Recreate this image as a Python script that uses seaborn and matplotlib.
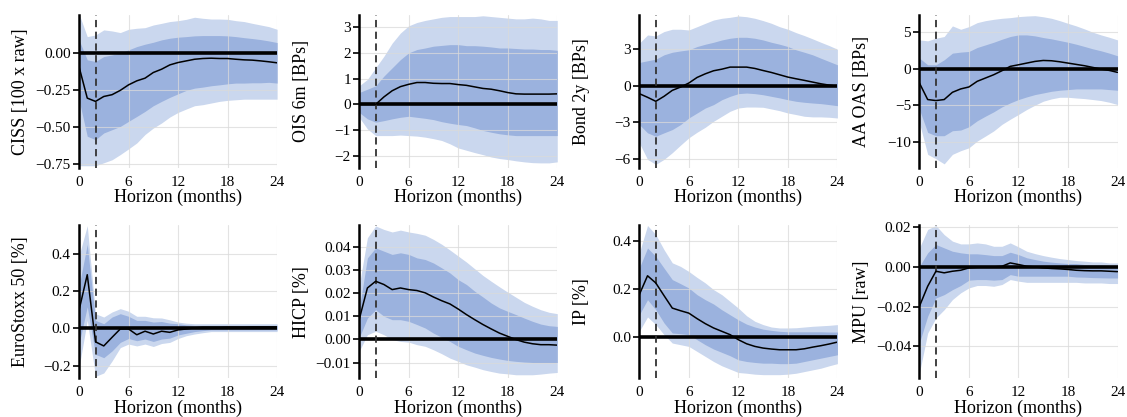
import matplotlib
matplotlib.use("Agg")
import matplotlib.pyplot as plt
from matplotlib.ticker import FuncFormatter
import seaborn as sns

horizon = list(range(25))

# CISS [100 x raw]
ciss_med = [-0.094, -0.306, -0.328, -0.295, -0.283, -0.254, -0.217, -0.19, -0.172, -0.134, -0.112, -0.083, -0.067,
            -0.056, -0.045, -0.04, -0.038, -0.04, -0.04, -0.045, -0.049, -0.051, -0.056, -0.062, -0.069]
ciss_lo68 = [-0.317, -0.562, -0.585, -0.54, -0.518, -0.496, -0.462, -0.429, -0.395, -0.357, -0.328, -0.301, -0.277,
             -0.254, -0.239, -0.232, -0.223, -0.217, -0.21, -0.205, -0.205, -0.203, -0.203, -0.2, -0.205]
ciss_hi68 = [0.085, -0.049, -0.06, -0.027, -0.016, -0.004, 0.018, 0.04, 0.056, 0.069, 0.085, 0.096, 0.103,
             0.107, 0.112, 0.114, 0.114, 0.114, 0.112, 0.107, 0.1, 0.094, 0.087, 0.078, 0.067]
ciss_lo90 = [-0.76, -0.76, -0.76, -0.74, -0.72, -0.685, -0.647, -0.607, -0.55, -0.507, -0.473, -0.433, -0.402,
             -0.379, -0.357, -0.35, -0.339, -0.328, -0.321, -0.317, -0.313, -0.313, -0.313, -0.313, -0.313]
ciss_hi90 = [0.26, 0.107, 0.118, 0.152, 0.145, 0.134, 0.156, 0.163, 0.167, 0.185, 0.196, 0.208, 0.214,
             0.223, 0.237, 0.23, 0.225, 0.225, 0.223, 0.214, 0.208, 0.196, 0.185, 0.174, 0.156]

# OIS 6m [BPs]
ois_med = [0, 0, 0, 0.29, 0.53, 0.69, 0.78, 0.85, 0.85, 0.82, 0.81, 0.81, 0.77,
           0.74, 0.68, 0.62, 0.59, 0.53, 0.46, 0.41, 0.4, 0.4, 0.4, 0.4, 0.41]
ois_lo68 = [-0.31, -0.56, -0.69, -0.63, -0.56, -0.5, -0.46, -0.5, -0.54, -0.59, -0.67, -0.73, -0.78,
            -0.82, -0.91, -1.01, -1.08, -1.14, -1.18, -1.21, -1.21, -1.21, -1.21, -1.21, -1.21]
ois_hi68 = [0.46, 0.59, 0.72, 1.1, 1.42, 1.74, 2.0, 2.13, 2.19, 2.26, 2.29, 2.32, 2.32,
            2.28, 2.28, 2.26, 2.23, 2.19, 2.19, 2.17, 2.15, 2.15, 2.13, 2.13, 2.1]
ois_lo90 = [-0.5, -0.95, -1.21, -1.21, -1.21, -1.19, -1.21, -1.23, -1.27, -1.33, -1.4, -1.53, -1.69,
            -1.78, -1.87, -1.95, -2.04, -2.1, -2.14, -2.19, -2.23, -2.26, -2.27, -2.27, -2.23]
ois_hi90 = [0.72, 0.97, 1.42, 1.87, 2.38, 2.77, 3.05, 3.18, 3.26, 3.32, 3.38, 3.41, 3.41,
            3.41, 3.41, 3.44, 3.41, 3.38, 3.35, 3.32, 3.32, 3.35, 3.32, 3.26, 3.26]

# Bond 2y [BPs]
bond_med = [-0.65, -0.95, -1.28, -0.87, -0.38, -0.11, 0.22, 0.68, 0.98, 1.23, 1.36, 1.53, 1.53,
            1.53, 1.42, 1.25, 1.09, 0.9, 0.71, 0.57, 0.44, 0.3, 0.16, 0.05, -0.05]
bond_lo68 = [-3.19, -3.87, -4.15, -3.87, -3.6, -3.19, -2.65, -2.24, -1.83, -1.55, -1.15, -0.87, -0.65,
             -0.6, -0.65, -0.74, -0.87, -1.0, -1.15, -1.28, -1.36, -1.42, -1.47, -1.55, -1.64]
bond_hi68 = [1.91, 2.05, 2.18, 2.54, 2.75, 2.86, 2.95, 3.22, 3.41, 3.57, 3.76, 3.9, 3.98,
             3.98, 3.9, 3.76, 3.57, 3.41, 3.22, 2.95, 2.75, 2.54, 2.26, 1.99, 1.72]
bond_lo90 = [-4.69, -6.05, -6.46, -6.05, -5.5, -4.88, -4.28, -3.82, -3.41, -2.92, -2.51, -2.1, -1.83,
             -1.75, -1.75, -1.77, -1.91, -2.05, -2.24, -2.37, -2.51, -2.56, -2.56, -2.59, -2.65]
bond_hi90 = [3.49, 4.17, 4.09, 4.45, 4.64, 4.64, 4.58, 4.85, 5.13, 5.4, 5.54, 5.62, 5.73,
             5.67, 5.54, 5.35, 5.13, 4.85, 4.64, 4.36, 4.12, 3.85, 3.57, 3.3, 3.0]

# AA OAS [BPs]
oas_med = [-1.95, -4.21, -4.35, -4.21, -3.22, -2.76, -2.49, -1.72, -1.27, -0.82, -0.27, 0.32, 0.54,
           0.77, 1.0, 1.13, 1.09, 0.95, 0.77, 0.59, 0.41, 0.18, -0.05, -0.23, -0.5]
oas_lo68 = [-5.57, -8.7, -9.15, -9.15, -8.47, -8.38, -7.93, -7.11, -6.48, -5.89, -5.21, -4.67, -4.21,
            -3.85, -3.53, -3.31, -3.08, -2.94, -2.85, -2.76, -2.76, -2.76, -2.76, -2.85, -2.94]
oas_hi68 = [1.45, 0.54, 0.54, 1.22, 2.13, 2.27, 2.36, 2.9, 3.26, 3.62, 4.03, 4.4, 4.62,
            4.62, 4.49, 4.26, 4.08, 3.85, 3.62, 3.35, 3.04, 2.72, 2.45, 2.13, 1.77]
oas_lo90 = [-7.39, -11.7, -12.3, -13.0, -11.7, -11.2, -10.8, -9.88, -9.2, -8.5, -7.6, -6.9, -6.25,
            -5.57, -4.98, -4.44, -4.12, -3.9, -3.9, -4.0, -4.08, -4.21, -4.35, -4.58, -4.89]
oas_hi90 = [3.94, 3.81, 4.17, 4.4, 5.85, 5.39, 5.75, 6.3, 6.57, 6.75, 6.89, 6.98, 7.12,
            7.2, 7.25, 7.1, 6.89, 6.57, 6.2, 5.85, 5.44, 4.99, 4.62, 4.3, 3.94]

# EuroStoxx 50 [%]
stoxx_med = [0.096, 0.287, -0.073, -0.095, -0.049, -0.004, -0.004, -0.035, -0.016, -0.031, -0.016, -0.022, -0.009,
             -0.004, 0.002, 0.005, 0.005, 0.005, 0.006, 0.006, 0.006, 0.007, 0.007, 0.007, 0.007]
stoxx_lo68 = [-0.085, 0.115, -0.14, -0.158, -0.122, -0.076, -0.055, -0.067, -0.058, -0.071, -0.058, -0.053, -0.036,
              -0.027, -0.018, -0.013, -0.009, -0.009, -0.009, -0.009, -0.009, -0.009, -0.009, -0.009, -0.009]
stoxx_hi68 = [0.224, 0.45, 0.042, 0.024, 0.06, 0.078, 0.064, 0.042, 0.042, 0.033, 0.036, 0.027, 0.024,
              0.018, 0.015, 0.015, 0.015, 0.015, 0.015, 0.015, 0.015, 0.015, 0.015, 0.015, 0.015]
stoxx_lo90 = [-0.213, 0.042, -0.258, -0.24, -0.176, -0.104, -0.085, -0.095, -0.085, -0.098, -0.082, -0.076, -0.055,
              -0.04, -0.031, -0.024, -0.018, -0.018, -0.018, -0.018, -0.018, -0.018, -0.018, -0.018, -0.018]
stoxx_hi90 = [0.387, 0.55, 0.078, 0.06, 0.087, 0.105, 0.091, 0.064, 0.064, 0.056, 0.055, 0.045, 0.033,
              0.027, 0.024, 0.024, 0.024, 0.024, 0.024, 0.024, 0.024, 0.024, 0.024, 0.024, 0.024]

# HICP [%]
hicp_med = [0.0085, 0.0222, 0.0251, 0.0237, 0.0215, 0.0222, 0.0215, 0.0211, 0.0201, 0.0183, 0.0167, 0.0153, 0.0131,
            0.0107, 0.0085, 0.0064, 0.0045, 0.0027, 0.0013, -0.0001, -0.0012, -0.0019, -0.0023, -0.0023, -0.0025]
hicp_lo68 = [0.0006, 0.0092, 0.0128, 0.01, 0.0085, 0.0085, 0.0078, 0.0064, 0.0049, 0.0027, 0.0009, -0.0009, -0.003,
             -0.0045, -0.0059, -0.0069, -0.0078, -0.0085, -0.0091, -0.0095, -0.0098, -0.01, -0.01, -0.01, -0.01]
hicp_hi68 = [0.0128, 0.0352, 0.0395, 0.0381, 0.0367, 0.0374, 0.0367, 0.0352, 0.0345, 0.033, 0.0309, 0.0287, 0.0258,
             0.0237, 0.0208, 0.0183, 0.0157, 0.0136, 0.0121, 0.0107, 0.0092, 0.0078, 0.0066, 0.0059, 0.0056]
hicp_lo90 = [-0.0052, 0.002, 0.0035, 0.002, -0.0001, -0.0009, -0.0012, -0.0023, -0.003, -0.0045, -0.0062, -0.0081,
             -0.0095, -0.011, -0.012, -0.0131, -0.0139, -0.0146, -0.0149, -0.0153, -0.0153, -0.0153, -0.015, -0.0146,
             -0.0143]
hicp_hi90 = [0.023, 0.0439, 0.049, 0.0475, 0.0464, 0.0472, 0.0464, 0.0458, 0.045, 0.0432, 0.0411, 0.0386, 0.036,
             0.0334, 0.0305, 0.0276, 0.0251, 0.0227, 0.0204, 0.0182, 0.016, 0.0143, 0.0128, 0.0117, 0.0111]

# IP [%]
ip_med = [0.177, 0.256, 0.226, 0.173, 0.121, 0.11, 0.1, 0.077, 0.056, 0.038, 0.024, 0.01, -0.011,
          -0.028, -0.039, -0.046, -0.05, -0.053, -0.053, -0.053, -0.049, -0.042, -0.036, -0.029, -0.021]
ip_lo68 = [0.093, 0.156, 0.114, 0.059, 0.017, 0.014, 0.01, -0.011, -0.032, -0.05, -0.064, -0.078, -0.095,
           -0.102, -0.106, -0.109, -0.109, -0.111, -0.111, -0.109, -0.102, -0.095, -0.088, -0.081, -0.074]
ip_hi68 = [0.288, 0.372, 0.337, 0.288, 0.24, 0.223, 0.205, 0.177, 0.156, 0.138, 0.114, 0.093, 0.072,
           0.054, 0.042, 0.033, 0.028, 0.024, 0.022, 0.022, 0.022, 0.022, 0.022, 0.021, 0.021]
ip_lo90 = [0.024, 0.084, 0.052, 0.01, -0.025, -0.032, -0.039, -0.06, -0.081, -0.102, -0.12, -0.134, -0.148,
           -0.151, -0.155, -0.157, -0.157, -0.157, -0.155, -0.151, -0.144, -0.137, -0.13, -0.12, -0.111]
ip_hi90 = [0.351, 0.466, 0.428, 0.365, 0.31, 0.295, 0.274, 0.249, 0.226, 0.198, 0.177, 0.149, 0.121,
           0.089, 0.066, 0.052, 0.042, 0.038, 0.038, 0.039, 0.042, 0.045, 0.047, 0.049, 0.052]

# MPU [raw]
mpu_med = [-0.0199, -0.0098, -0.0022, -0.003, -0.0022, -0.0017, -0.0005, -0.0002, 0.0, 0.0, 0.0003, 0.002, 0.0012,
           0.0003, 0.0, -0.0005, -0.0008, -0.001, -0.0013, -0.0017, -0.0019, -0.002, -0.002, -0.0022, -0.0024]
mpu_lo68 = [-0.0384, -0.0249, -0.0157, -0.014, -0.0115, -0.0094, -0.0067, -0.0064, -0.0064, -0.0067, -0.0064,
            -0.0039, -0.0047, -0.0047, -0.0047, -0.0047, -0.0047, -0.0047, -0.0047, -0.0051, -0.0052, -0.0054,
            -0.0055, -0.0056, -0.0056]
mpu_hi68 = [0.0003, 0.0071, 0.0113, 0.0096, 0.0079, 0.0071, 0.0066, 0.0066, 0.0062, 0.0057, 0.0057, 0.0074, 0.0062,
            0.0046, 0.0037, 0.0029, 0.0024, 0.002, 0.0017, 0.0017, 0.0012, 0.001, 0.001, 0.0007, 0.0007]
mpu_lo90 = [-0.0536, -0.0334, -0.0258, -0.0216, -0.0165, -0.0131, -0.0106, -0.0094, -0.0094, -0.0098, -0.0089,
            -0.0064, -0.0072, -0.0078, -0.0078, -0.0078, -0.0078, -0.0078, -0.0078, -0.0078, -0.0081, -0.0081,
            -0.0081, -0.0084, -0.0084]
mpu_hi90 = [0.0096, 0.0189, 0.0209, 0.0163, 0.013, 0.0116, 0.0116, 0.0121, 0.0116, 0.0104, 0.0104, 0.0121, 0.0101,
            0.0079, 0.0067, 0.0057, 0.0049, 0.0042, 0.0037, 0.0032, 0.0029, 0.0025, 0.0025, 0.002, 0.002]

ylabels = ["CISS [100 x raw]", "OIS 6m [BPs]", "Bond 2y [BPs]", "AA OAS [BPs]",
           "EuroStoxx 50 [%]", "HICP [%]", "IP [%]", "MPU [raw]"]
xticks = [0, 6, 12, 18, 24]
yticks = [[-0.75, -0.5, -0.25, 0.0], [-2, -1, 0, 1, 2, 3], [-6, -3, 0, 3], [-10, -5, 0, 5],
          [-0.2, 0.0, 0.2, 0.4], [-0.01, 0.0, 0.01, 0.02, 0.03, 0.04], [0.0, 0.2, 0.4], [-0.04, -0.02, 0.0, 0.02]]
ydigits = [2, 0, 0, 0, 1, 2, 1, 2]
ylims = [(-0.772, 0.252), (-2.45, 3.47), (-6.72, 5.81), (-13.5, 7.34),
         (-0.267, 0.551), (-0.0167, 0.0492), (-0.171, 0.466), (-0.0561, 0.0209)]

series = [
    (ciss_med, ciss_lo68, ciss_hi68, ciss_lo90, ciss_hi90),
    (ois_med, ois_lo68, ois_hi68, ois_lo90, ois_hi90),
    (bond_med, bond_lo68, bond_hi68, bond_lo90, bond_hi90),
    (oas_med, oas_lo68, oas_hi68, oas_lo90, oas_hi90),
    (stoxx_med, stoxx_lo68, stoxx_hi68, stoxx_lo90, stoxx_hi90),
    (hicp_med, hicp_lo68, hicp_hi68, hicp_lo90, hicp_hi90),
    (ip_med, ip_lo68, ip_hi68, ip_lo90, ip_hi90),
    (mpu_med, mpu_lo68, mpu_hi68, mpu_lo90, mpu_hi90),
]

sns.set_theme(style="whitegrid")
plt.rcParams["font.family"] = ["Liberation Serif", "DejaVu Sans"]

light = "#cad7ee"
dark = "#9bb2de"

fig, axes = plt.subplots(2, 4, figsize=(11.27, 4.17), dpi=100)
fig.subplots_adjust(left=0.0701, right=0.9916, bottom=0.0935, top=0.964, wspace=0.414, hspace=0.38)

for i, ax in enumerate(axes.flat):
    med, lo68, hi68, lo90, hi90 = series[i]
    ax.fill_between(horizon, lo90, hi90, color=light, lw=0, zorder=1)
    ax.fill_between(horizon, lo68, hi68, color=dark, lw=0, zorder=1.2)
    ax.axhline(0, color="black", lw=2.6, zorder=3)
    ax.axvline(2, color="#333333", lw=1.3, ls=(0, (4, 2.5)), zorder=3)
    sns.lineplot(x=horizon, y=med, ax=ax, color="black", linewidth=1.1, zorder=4)

    ax.set_xlim(0, 24)
    ax.set_ylim(*ylims[i])
    ax.set_xticks(xticks)
    ax.set_yticks(yticks[i])
    d = ydigits[i]
    ax.yaxis.set_major_formatter(FuncFormatter(lambda v, p, d=d: f"{v:.{d}f}".replace("-", "\u2212")))
    ax.set_axisbelow(False)
    ax.grid(True, color="#dadada", lw=0.8, alpha=0.75, zorder=2)
    for s in ["top", "right", "bottom"]:
        ax.spines[s].set_visible(False)
    ax.spines["left"].set_color("black")
    ax.spines["left"].set_linewidth(1.8)
    ax.spines["left"].set_zorder(5)
    ax.tick_params(axis="y", left=True, length=4, width=1.2, color="black", pad=2, labelsize=11, labelcolor="black")
    ax.tick_params(axis="x", bottom=False, length=0, pad=6, labelsize=11, labelcolor="black")
    ax.set_xlabel("Horizon (months)", fontsize=13, labelpad=0, color="black")
    ax.set_ylabel(ylabels[i], fontsize=13, color="black")
    ax.yaxis.set_label_coords(-0.25, 0.5)

fig.savefig("out.png", dpi=100)
